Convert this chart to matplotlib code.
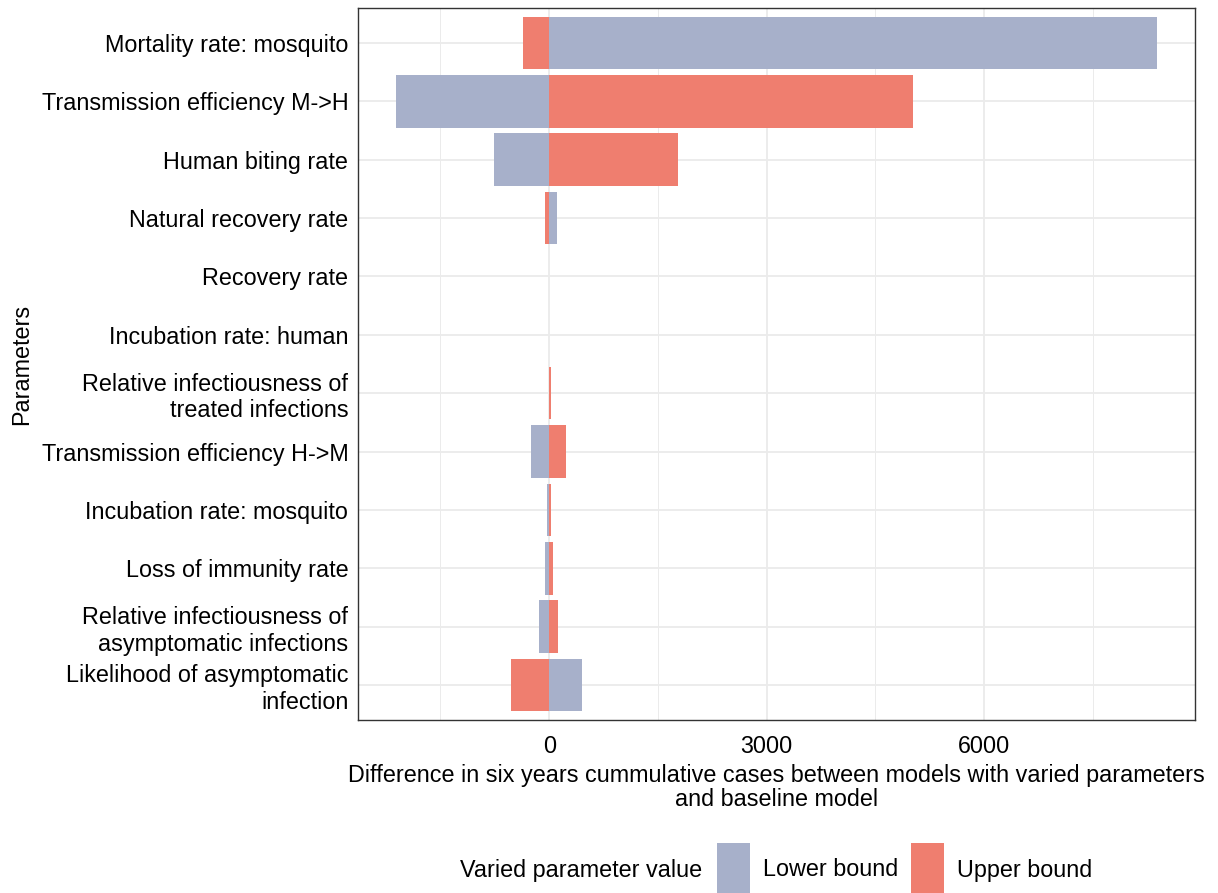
import matplotlib
matplotlib.use("Agg")
import matplotlib.pyplot as plt
from matplotlib.patches import Rectangle
import numpy as np

plt.rcParams['font.family'] = ['Liberation Sans', 'DejaVu Sans']

parameters = [
    "Mortality rate: mosquito",
    "Transmission efficiency M->H",
    "Human biting rate",
    "Natural recovery rate",
    "Recovery rate",
    "Incubation rate: human",
    "Relative infectiousness of\ntreated infections",
    "Transmission efficiency H->M",
    "Incubation rate: mosquito",
    "Loss of immunity rate",
    "Relative infectiousness of\nasymptomatic infections",
    "Likelihood of asymptomatic\ninfection",
]
lower_bound = [8384, -2113, -760, 101, 0, 0, 0, -245, -37, -59, -134, 452]
upper_bound = [-355, 5014, 1782, -55, 0, 0, 20, 226, 23, 46, 120, -522]
series_names = ["Lower bound", "Upper bound"]
legend_title = "Varied parameter value"
x_ticks = [0, 3000, 6000]
x_minor = [-1500, 1500, 4500, 7500]

col_low = "#A7B0CA"
col_up = "#EF7E6F"
FS = 16.8

fig = plt.figure(figsize=(12.18, 8.93), dpi=100)
ax = fig.add_axes([358/1218, 1-720/893, (1195-358)/1218, (720-8)/893])

n = len(parameters)
y = np.arange(n)[::-1]
ax.barh(y, lower_bound, height=0.9, color=col_low, zorder=3, linewidth=0)
ax.barh(y, upper_bound, height=0.9, color=col_up, zorder=3, linewidth=0)

allv = lower_bound + upper_bound + [0]
lo, hi = min(allv), max(allv)
pad = 0.05 * (hi - lo)
ax.set_xlim(lo - pad, hi + pad)
ax.set_ylim(-0.6, n - 1 + 0.6)

ax.set_xticks(x_ticks)
ax.set_xticklabels([str(t) for t in x_ticks])
ax.set_xticks(x_minor, minor=True)
ax.set_yticks(y)
ax.set_yticklabels(parameters, ha='right', multialignment='right', linespacing=1.2)

ax.grid(True, which='major', axis='both', color='#EBEBEB', linewidth=1.3, zorder=0)
ax.grid(True, which='minor', axis='x', color='#EBEBEB', linewidth=0.7, zorder=0)
ax.tick_params(axis='both', which='both', length=0, labelsize=FS, colors='black')
ax.tick_params(axis='y', pad=7)
ax.tick_params(axis='x', pad=11)
for s in ax.spines.values():
    s.set_color('#333333')
    s.set_linewidth(1.0)

ax.set_xlabel("Difference in six years cummulative cases between models with varied parameters\nand baseline model",
              fontsize=FS, labelpad=4, linespacing=1.05)
ax.set_ylabel("Parameters", fontsize=FS, labelpad=6)

# legend (bottom)
W, H = 1218, 893
fig.text(460/W, 1-870/H, legend_title, fontsize=FS, va='center', ha='left')
fig.patches.append(Rectangle((717/W, 1-893/H), 33/W, 50/H, transform=fig.transFigure,
                             facecolor=col_low, edgecolor='none', figure=fig))
fig.text(763/W, 1-870/H, series_names[0], fontsize=FS, va='center', ha='left')
fig.patches.append(Rectangle((911/W, 1-893/H), 33/W, 50/H, transform=fig.transFigure,
                             facecolor=col_up, edgecolor='none', figure=fig))
fig.text(957/W, 1-870/H, series_names[1], fontsize=FS, va='center', ha='left')

fig.savefig("out.png", dpi=100)
